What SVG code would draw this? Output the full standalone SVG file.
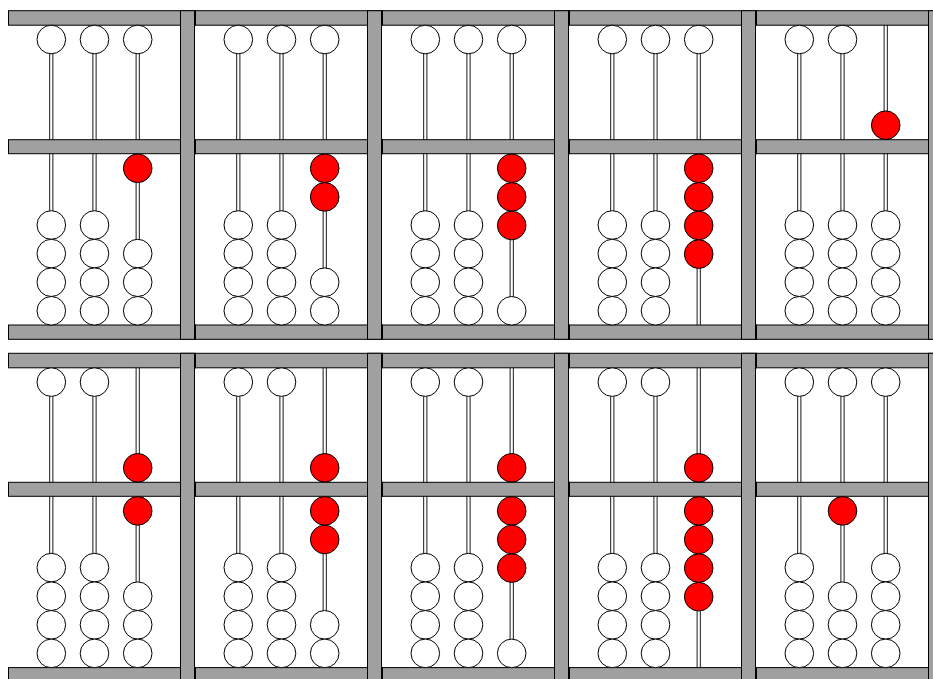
<svg xmlns="http://www.w3.org/2000/svg" xmlns:xlink="http://www.w3.org/1999/xlink" width="933" height="679" viewBox="0 0 933 679">
<style>
.bar{fill:#a0a0a0;stroke:#000;stroke-width:1}
.rod{fill:#fff;stroke:#000;stroke-width:0.9}
.b{fill:#fff;stroke:#000;stroke-width:1}
.r{fill:#f00;stroke:#000;stroke-width:1}
</style>
<defs>
<g id="frame">
<rect class="rod" x="49.7" y="20" width="3.2" height="310"/>
<rect class="rod" x="92.9" y="20" width="3.2" height="310"/>
<rect class="rod" x="136.1" y="20" width="3.2" height="310"/>
<rect class="bar" x="8.5" y="10.7" width="187" height="14.5"/>
<rect class="bar" x="8.5" y="139.7" width="187" height="14"/>
<rect class="bar" x="8.5" y="325" width="187" height="14.3"/>
<rect class="bar" x="180.5" y="10.7" width="14" height="328.6"/>
</g>
<g id="up1"><circle class="b" cx="51.3" cy="39.5" r="14.3"/></g>
<g id="up2"><circle class="b" cx="94.5" cy="39.5" r="14.3"/></g>
<g id="up3"><circle class="b" cx="137.7" cy="39.5" r="14.3"/></g>
<g id="e1"><circle class="b" cx="51.3" cy="225" r="14.3"/><circle class="b" cx="51.3" cy="253.6" r="14.3"/><circle class="b" cx="51.3" cy="282.2" r="14.3"/><circle class="b" cx="51.3" cy="310.8" r="14.3"/></g>
<g id="e2"><circle class="b" cx="94.5" cy="225" r="14.3"/><circle class="b" cx="94.5" cy="253.6" r="14.3"/><circle class="b" cx="94.5" cy="282.2" r="14.3"/><circle class="b" cx="94.5" cy="310.8" r="14.3"/></g>
</defs>

<g id="panel1">
<use xlink:href="#frame"/><use xlink:href="#up1"/><use xlink:href="#up2"/><use xlink:href="#up3"/><use xlink:href="#e1"/><use xlink:href="#e2"/>
<circle class="r" cx="137.7" cy="168.3" r="14.3"/>
<circle class="b" cx="137.7" cy="253.6" r="14.3"/><circle class="b" cx="137.7" cy="282.2" r="14.3"/><circle class="b" cx="137.7" cy="310.8" r="14.3"/>
</g>
<g id="panel2" transform="translate(187,0)">
<use xlink:href="#frame"/><use xlink:href="#up1"/><use xlink:href="#up2"/><use xlink:href="#up3"/><use xlink:href="#e1"/><use xlink:href="#e2"/>
<circle class="r" cx="137.7" cy="168.3" r="14.3"/><circle class="r" cx="137.7" cy="196.9" r="14.3"/>
<circle class="b" cx="137.7" cy="282.2" r="14.3"/><circle class="b" cx="137.7" cy="310.8" r="14.3"/>
</g>
<g id="panel3" transform="translate(374,0)">
<use xlink:href="#frame"/><use xlink:href="#up1"/><use xlink:href="#up2"/><use xlink:href="#up3"/><use xlink:href="#e1"/><use xlink:href="#e2"/>
<circle class="r" cx="137.7" cy="168.3" r="14.3"/><circle class="r" cx="137.7" cy="196.9" r="14.3"/><circle class="r" cx="137.7" cy="225.5" r="14.3"/>
<circle class="b" cx="137.7" cy="310.8" r="14.3"/>
</g>
<g id="panel4" transform="translate(561,0)">
<use xlink:href="#frame"/><use xlink:href="#up1"/><use xlink:href="#up2"/><use xlink:href="#up3"/><use xlink:href="#e1"/><use xlink:href="#e2"/>
<circle class="r" cx="137.7" cy="168.3" r="14.3"/><circle class="r" cx="137.7" cy="196.9" r="14.3"/><circle class="r" cx="137.7" cy="225.5" r="14.3"/><circle class="r" cx="137.7" cy="254.1" r="14.3"/>
</g>
<g id="panel5" transform="translate(748,0)">
<use xlink:href="#frame"/><use xlink:href="#up1"/><use xlink:href="#up2"/><use xlink:href="#e1"/><use xlink:href="#e2"/>
<circle class="r" cx="137.7" cy="125.2" r="14.3"/>
<circle class="b" cx="137.7" cy="225" r="14.3"/><circle class="b" cx="137.7" cy="253.6" r="14.3"/><circle class="b" cx="137.7" cy="282.2" r="14.3"/><circle class="b" cx="137.7" cy="310.8" r="14.3"/>
</g>

<g id="panel6" transform="translate(0,342.6)">
<use xlink:href="#frame"/><use xlink:href="#up1"/><use xlink:href="#up2"/><use xlink:href="#e1"/><use xlink:href="#e2"/>
<circle class="r" cx="137.7" cy="125.2" r="14.3"/>
<circle class="r" cx="137.7" cy="168.3" r="14.3"/>
<circle class="b" cx="137.7" cy="253.6" r="14.3"/><circle class="b" cx="137.7" cy="282.2" r="14.3"/><circle class="b" cx="137.7" cy="310.8" r="14.3"/>
</g>
<g id="panel7" transform="translate(187,342.6)">
<use xlink:href="#frame"/><use xlink:href="#up1"/><use xlink:href="#up2"/><use xlink:href="#e1"/><use xlink:href="#e2"/>
<circle class="r" cx="137.7" cy="125.2" r="14.3"/>
<circle class="r" cx="137.7" cy="168.3" r="14.3"/><circle class="r" cx="137.7" cy="196.9" r="14.3"/>
<circle class="b" cx="137.7" cy="282.2" r="14.3"/><circle class="b" cx="137.7" cy="310.8" r="14.3"/>
</g>
<g id="panel8" transform="translate(374,342.6)">
<use xlink:href="#frame"/><use xlink:href="#up1"/><use xlink:href="#up2"/><use xlink:href="#e1"/><use xlink:href="#e2"/>
<circle class="r" cx="137.7" cy="125.2" r="14.3"/>
<circle class="r" cx="137.7" cy="168.3" r="14.3"/><circle class="r" cx="137.7" cy="196.9" r="14.3"/><circle class="r" cx="137.7" cy="225.5" r="14.3"/>
<circle class="b" cx="137.7" cy="310.8" r="14.3"/>
</g>
<g id="panel9" transform="translate(561,342.6)">
<use xlink:href="#frame"/><use xlink:href="#up1"/><use xlink:href="#up2"/><use xlink:href="#e1"/><use xlink:href="#e2"/>
<circle class="r" cx="137.7" cy="125.2" r="14.3"/>
<circle class="r" cx="137.7" cy="168.3" r="14.3"/><circle class="r" cx="137.7" cy="196.9" r="14.3"/><circle class="r" cx="137.7" cy="225.5" r="14.3"/><circle class="r" cx="137.7" cy="254.1" r="14.3"/>
</g>
<g id="panel10" transform="translate(748,342.6)">
<use xlink:href="#frame"/><use xlink:href="#up1"/><use xlink:href="#up2"/><use xlink:href="#up3"/><use xlink:href="#e1"/>
<circle class="r" cx="94.5" cy="168.3" r="14.3"/>
<circle class="b" cx="94.5" cy="253.6" r="14.3"/><circle class="b" cx="94.5" cy="282.2" r="14.3"/><circle class="b" cx="94.5" cy="310.8" r="14.3"/>
<circle class="b" cx="137.7" cy="225" r="14.3"/><circle class="b" cx="137.7" cy="253.6" r="14.3"/><circle class="b" cx="137.7" cy="282.2" r="14.3"/><circle class="b" cx="137.7" cy="310.8" r="14.3"/>
</g>
</svg>
